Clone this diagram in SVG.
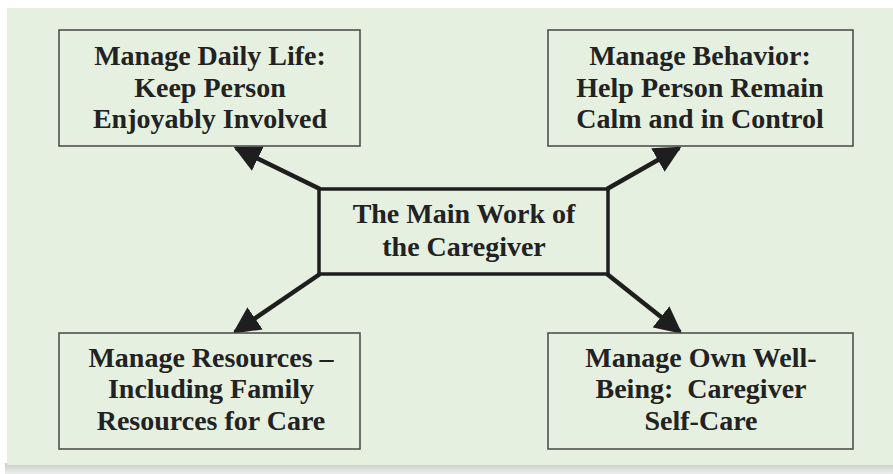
<svg xmlns="http://www.w3.org/2000/svg" width="893" height="474" viewBox="0 0 893 474">
<defs>
<style>
.panel{fill:#e5f0e0}
.box{fill:#e5f0e0;stroke:#4f514e;stroke-width:1.6}
.main{fill:#e5f0e0;stroke:#1e1e1e;stroke-width:3.5}
.lbl{font-family:"Liberation Serif","Times New Roman","DejaVu Serif",serif;font-weight:bold;font-size:28px;fill:#222;text-anchor:middle}
.conn{stroke:#1e1e1e;stroke-width:4.5;fill:none}
</style>
<linearGradient id="sh" x1="0" y1="0" x2="0" y2="1">
<stop offset="0" stop-color="#c9cbc9"/>
<stop offset="1" stop-color="#eceeec"/>
</linearGradient>
<marker id="ah" viewBox="0 0 10 10" refX="9" refY="5" markerWidth="6" markerHeight="6" orient="auto" markerUnits="strokeWidth">
<path d="M0,0 L10,5 L0,10 Z" fill="#1e1e1e"/>
</marker>
</defs>
<rect x="0" y="0" width="893" height="474" fill="#ffffff"/>
<rect x="5" y="463" width="888" height="11" fill="url(#sh)"/>
<rect class="panel" x="7" y="8" width="886" height="457"/>
<g id="connectors">
<line class="conn" x1="320" y1="189" x2="236" y2="148" marker-end="url(#ah)"/>
<line class="conn" x1="607" y1="189" x2="679" y2="148" marker-end="url(#ah)"/>
<line class="conn" x1="320" y1="274" x2="235" y2="332" marker-end="url(#ah)"/>
<line class="conn" x1="607" y1="274" x2="680" y2="332" marker-end="url(#ah)"/>
</g>
<g id="center">
<rect class="main" x="319" y="189" width="289" height="85"/>
<text class="lbl" x="464" y="223">The Main Work of</text>
<text class="lbl" x="464" y="256">the Caregiver</text>
</g>
<g id="daily-life">
<rect class="box" x="59" y="30" width="301" height="116"/>
<text class="lbl" x="210" y="65">Manage Daily Life:</text>
<text class="lbl" x="210" y="97">Keep Person</text>
<text class="lbl" x="210" y="128">Enjoyably Involved</text>
</g>
<g id="behavior">
<rect class="box" x="548" y="30" width="305" height="116"/>
<text class="lbl" x="700" y="65">Manage Behavior:</text>
<text class="lbl" x="700" y="97">Help Person Remain</text>
<text class="lbl" x="700" y="128">Calm and in Control</text>
</g>
<g id="resources">
<rect class="box" x="59" y="333" width="301" height="116"/>
<text class="lbl" x="211" y="367">Manage Resources –</text>
<text class="lbl" x="211" y="398">Including Family</text>
<text class="lbl" x="211" y="430">Resources for Care</text>
</g>
<g id="well-being">
<rect class="box" x="548" y="333" width="305" height="116"/>
<text class="lbl" x="701" y="367">Manage Own Well-</text>
<text class="lbl" x="701" y="398" xml:space="preserve">Being:  Caregiver</text>
<text class="lbl" x="701" y="430">Self-Care</text>
</g>
</svg>
